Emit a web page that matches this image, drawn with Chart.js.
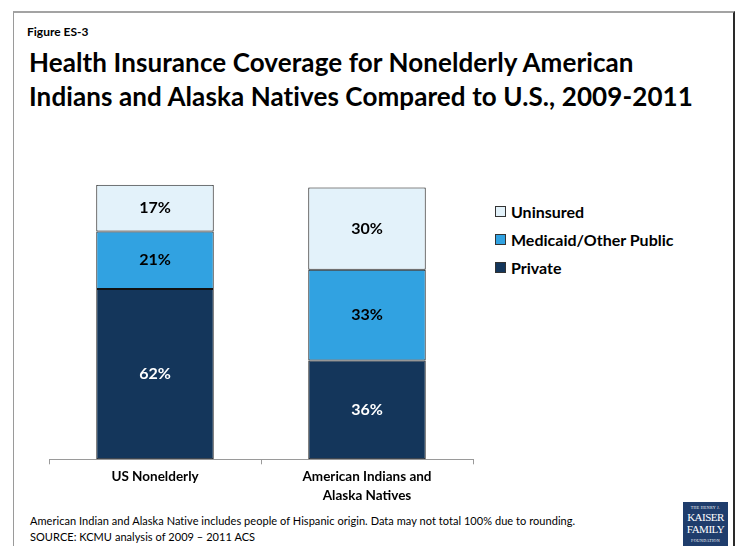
<!DOCTYPE html>
<html>
<head>
<meta charset="utf-8">
<script src="https://cdn.jsdelivr.net/npm/chart.js@4.4.1/dist/chart.umd.min.js"></script>
<style>
  body { margin: 0; width: 738px; height: 546px; overflow: hidden; background: #fff; font-family: Lato, "Open Sans", sans-serif; color: #000; position: relative; }
  .frame { position: absolute; left: 13px; top: 11px; width: 719px; height: 560px; border-top: 2px solid #a3a3a3; border-left: 1px solid #9a9a9a; border-right: 2px solid #2a2a2a; }
  .fig { position: absolute; left: 27px; top: 24px; font-size: 12px; font-weight: bold; }
  .title { position: absolute; left: 29px; top: 45px; font-size: 26px; font-weight: bold; line-height: 34px; letter-spacing: 0.1px; }
  .chartbox { position: absolute; left: 0; top: 170px; width: 480px; height: 340px; }
  .legend { position: absolute; left: 495px; top: 205px; font-size: 16px; font-weight: bold; }
  .legend div { height: 28px; display: flex; align-items: center; margin-top: -8px; margin-bottom: 8px; }
  .legend span.box { display: inline-block; width: 9px; height: 9px; border: 1px solid #333; margin-right: 5px; }
  .note { position: absolute; left: 30px; top: 513px; font-size: 11px; line-height: 16px; letter-spacing: 0.05px; }
  .logo { position: absolute; left: 683px; top: 502px; width: 45px; height: 50px; background: #1f3d6c; color: #fff; font-family: "Liberation Serif", serif; text-align: center; }
  .logo .s { font-size: 4px; line-height: 6px; margin-top: 3px; letter-spacing: 0.3px; }
  .logo .b { font-size: 11px; line-height: 12px; letter-spacing: -0.5px; }
</style>
</head>
<body>
<div class="frame"></div>
<div class="fig">Figure ES-3</div>
<div class="title">Health Insurance Coverage for Nonelderly American<br>Indians and Alaska Natives Compared to U.S., 2009-2011</div>
<div class="chartbox"><canvas id="coverageChart"></canvas></div>
<div class="legend" id="legend"></div>
<div class="note">American Indian and Alaska Native includes people of Hispanic origin. Data may not total 100% due to rounding.<br>SOURCE: KCMU analysis of 2009 – 2011 ACS</div>
<div class="logo"><div class="s">THE HENRY J.</div><div class="b">KAISER</div><div class="b">FAMILY</div><div class="s">FOUNDATION</div></div>

<script>
const groups = ['US Nonelderly', ['American Indians and', 'Alaska Natives']];
const coverageTypes = ['Private', 'Medicaid/Other Public', 'Uninsured'];
const privateShare = [62, 36];
const publicShare = [21, 33];
const uninsuredShare = [17, 30];
const fills = ['#14365b', '#31a2e1', '#e3f2fa'];
const labelColors = ['#fff', '#000', '#000'];

// writes the percent in the middle of each stacked segment
const segmentLabels = {
    id: 'segmentLabels',
    afterDatasetsDraw(chart) {
        const ctx = chart.ctx;
        ctx.save();
        ctx.font = 'bold 16px Lato, sans-serif';
        ctx.textAlign = 'center';
        ctx.textBaseline = 'middle';
        chart.data.datasets.forEach((ds, i) => {
            chart.getDatasetMeta(i).data.forEach((bar, j) => {
                const p = bar.getProps(['x', 'y', 'base'], true);
                ctx.fillStyle = labelColors[i];
                ctx.fillText(ds.data[j] + '%', p.x, (p.y + p.base) / 2);
            });
        });
        ctx.restore();
    }
};

const ctx = document.getElementById('coverageChart').getContext('2d');
new Chart(ctx, {
    type: 'bar',
    data: {
        labels: groups,
        datasets: [privateShare, publicShare, uninsuredShare].map((vals, i) => ({
            label: coverageTypes[i],
            data: vals,
            backgroundColor: fills[i],
            borderColor: '#111',
            borderWidth: 1,
            borderSkipped: false,
            categoryPercentage: 1,
            barPercentage: 0.554
        }))
    },
    options: {
        responsive: true,
        maintainAspectRatio: false,
        animation: false,
        layout: { padding: { left: 49, right: 7, top: 14.7, bottom: 0 } },
        plugins: { legend: { display: false }, tooltip: { enabled: false } },
        scales: {
            x: {
                stacked: true,
                grid: { drawOnChartArea: false, color: '#9a9a9a', tickLength: 5 },
                border: { color: '#9a9a9a' },
                ticks: { color: '#000', padding: 3, font: { family: 'Lato', size: 13.5, weight: 'bold', lineHeight: 1.4 } },
                afterFit(scale) { scale.height = 50.7; }
            },
            y: { stacked: true, display: false, min: 0, max: 100 }
        }
    },
    plugins: [segmentLabels]
});

// legend lists the top segment first
const legend = document.getElementById('legend');
coverageTypes.slice().reverse().forEach((name, k) => {
    const row = document.createElement('div');
    row.innerHTML = '<span class="box" style="background:' + fills[2 - k] + '"></span>' + name;
    legend.appendChild(row);
});
</script>
</body>
</html>
